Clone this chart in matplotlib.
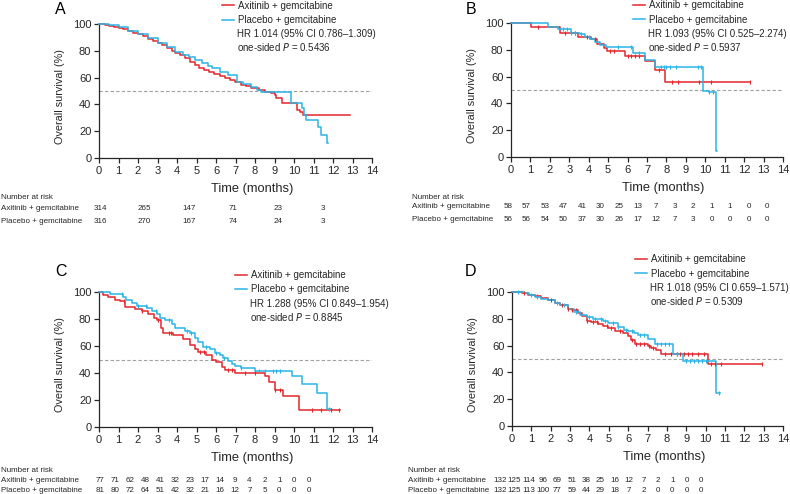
import matplotlib
matplotlib.use("Agg")
import matplotlib.pyplot as plt
import numpy as np

plt.rcParams['font.family'] = ['Liberation Sans', 'DejaVu Sans']

RED = '#e3262b'
BLUE = '#2ab4e6'
INK = '#262626'

arms = ['Axitinib + gemcitabine', 'Placebo + gemcitabine']

# ---- panel A ----
a_axi_t = [0, 0.3, 0.5, 0.75, 1.0, 1.25, 1.5, 1.75, 2.0, 2.25, 2.5, 2.75, 3.0, 3.25, 3.5,
           3.75, 3.9, 4.15, 4.4, 4.65, 4.9, 5.15, 5.4, 5.65, 5.9, 6.2, 6.45, 6.7, 6.96, 7.3,
           7.55, 7.8, 8.2, 8.5, 8.8, 9.0, 9.1, 9.4, 10.15, 10.3, 10.45, 12.85]
a_axi_s = [100, 99, 98.5, 97.5, 96.8, 96, 94.8, 93.5, 92.5, 91, 89, 87.5, 85.6, 84, 82,
           80, 78, 76.5, 74.4, 72, 69.4, 67.5, 66, 64.5, 63, 61, 59.5, 58, 57, 54.5,
           53.5, 52, 51, 49.5, 48.5, 47, 44.5, 40.8, 36, 34, 32.3, 32.3]
a_pla_t = [0, 0.5, 1.0, 1.5, 2.0, 2.5, 3.0, 3.5, 3.9, 4.3, 4.6, 4.9, 5.3, 5.6, 5.8, 6.2,
           6.6, 7.1, 7.4, 7.8, 8.1, 8.3, 9.85, 10.4, 10.5, 10.6, 11.25, 11.4, 11.7, 11.75]
a_pla_s = [100, 99.5, 97.5, 95, 92.5, 89.5, 86, 82.5, 79, 77, 75, 73, 71, 69, 67, 64.5,
           62, 57, 55, 53, 51, 49, 41.3, 37, 32, 28.7, 23.5, 17.5, 11, 11]
a_axi_c = []
a_pla_c = []
a_risk_axi = [314, 265, 147, 71, 23, 3]
a_risk_pla = [316, 270, 167, 74, 24, 3]
a_hr = 'HR 1.014 (95% CI 0.786\u20131.309)'
a_p = '0.5436'

# ---- panel B ----
b_axi_t = [0, 1.05, 2.5, 3.45, 4.1, 4.45, 4.8, 4.95, 5.85, 6.88, 7.4, 7.95, 12.3]
b_axi_s = [100, 97.3, 92.3, 89.8, 88.3, 84.5, 81, 79, 75.7, 71.5, 65, 55.6, 55.6]
b_pla_t = [0, 1.9, 2.42, 3.1, 3.53, 3.79, 4.05, 4.3, 4.56, 4.9, 6.28, 6.88, 7.4, 9.88,
           10.2, 10.57, 10.58]
b_pla_s = [100, 97.3, 95.3, 92.5, 91.6, 89.8, 88, 86, 83.6, 81.9, 77.9, 72.5, 67.5, 49.4,
           48.5, 4.2, 4.2]
b_axi_c = [1.4, 2.8, 3.3, 3.9, 4.3, 5.1, 5.3, 6.0, 6.2, 6.4, 6.6, 7.6, 8.3, 8.6, 9.7,
           10.3, 12.3]
b_pla_c = [2.7, 2.9, 3.1, 3.3, 3.6, 4.0, 5.5, 6.2, 6.6, 7.7, 7.9, 8.0, 8.2, 8.5, 9.6,
           9.8, 10.2, 10.4]
b_risk_axi = [58, 57, 53, 47, 41, 30, 25, 13, 7, 3, 2, 1, 1, 0, 0]
b_risk_pla = [56, 56, 54, 50, 37, 30, 26, 17, 12, 7, 3, 0, 0, 0, 0]
b_hr = 'HR 1.093 (95% CI 0.525\u20132.274)'
b_p = '0.5937'

# ---- panel C ----
c_axi_t = [0, 0.22, 0.48, 0.82, 1.08, 1.33, 1.85, 2.2, 2.5, 2.8, 2.96, 3.2, 3.3, 3.8,
           4.3, 4.67, 4.9, 5.1, 5.5, 5.8, 6.0, 6.3, 6.46, 6.97, 8.5, 8.7, 9.0, 9.45,
           10.25, 12.36]
c_axi_s = [100, 98, 96, 94, 93, 89, 87.5, 86, 84, 81, 79, 73, 70, 68,
           65, 61, 58, 55.5, 53, 50, 48, 44.5, 42, 40, 37.5, 33, 27.7, 23,
           12.6, 12.6]
c_pla_t = [0, 0.56, 1.25, 1.4, 1.7, 1.93, 2.44, 2.7, 2.96, 3.13, 3.4, 3.73, 3.9, 4.4,
           4.67, 4.92, 5.1, 5.35, 5.7, 5.95, 6.2, 6.37, 6.63, 6.8, 6.97, 7.3, 8.0,
           9.88, 10.4, 11.16, 11.67, 11.9]
c_pla_s = [100, 98.5, 96, 94, 92, 90, 88, 86, 84, 81, 79, 76, 73.5, 71,
           69.5, 66, 63, 59.5, 57.5, 55, 53, 51, 49, 47, 45, 43.5, 41.5,
           37.5, 31.5, 25, 13.4, 13.4]
c_axi_c = [1.3, 2.2, 3.0, 3.6, 3.7, 5.2, 5.4, 6.6, 6.8, 7.5, 8.0, 9.0, 9.3, 10.9, 11.4,
           11.9, 12.3]
c_pla_c = [1.2, 2.0, 2.4, 2.9, 3.6, 4.5, 4.7, 5.5, 6.0, 6.4, 7.3, 8.2, 8.5, 8.9, 9.1,
           9.3, 11.8]
c_risk_axi = [77, 71, 62, 48, 41, 32, 23, 17, 14, 9, 4, 2, 1, 0, 0]
c_risk_pla = [81, 80, 72, 64, 51, 42, 32, 21, 16, 12, 7, 5, 0, 0, 0]
c_hr = 'HR 1.288 (95% CI 0.849\u20131.954)'
c_p = '0.8845'

# ---- panel D ----
d_axi_t = [0, 0.5, 0.83, 1.2, 1.5, 1.86, 2.2, 2.5, 2.9, 3.1, 3.4, 3.6, 3.9, 4.1, 4.44,
           4.7, 4.96, 5.3, 5.73, 6.0, 6.16, 6.33, 7.0, 7.2, 7.45, 7.7, 10.1, 12.9]
d_axi_s = [100, 99, 98, 97, 95.5, 94, 92, 90, 87, 86.5, 84.5, 82, 78.5, 77.5, 76,
           74.5, 73, 71, 69.5, 67, 64, 61, 59.5, 58, 56.5, 53.5, 46.5, 46.5]
d_pla_t = [0, 0.6, 0.9, 1.2, 1.5, 1.86, 2.2, 2.5, 2.9, 3.2, 3.5, 3.9, 4.2, 4.44, 4.7,
           4.96, 5.47, 5.8, 6.0, 6.3, 6.5, 7.0, 7.37, 8.3, 8.83, 10.55, 10.75]
d_pla_s = [100, 99, 98, 96.5, 95, 94, 92, 90, 87.5, 85, 83, 81, 80, 79.5, 78,
           77, 74, 72, 71, 69.5, 68, 65, 61, 54, 48.5, 25, 25]
d_axi_c = [0.6, 1.3, 2.0, 2.6, 2.9, 3.1, 3.3, 3.9, 4.2, 4.4, 4.9, 5.1, 5.6, 6.2, 6.4, 6.6,
           6.8, 7.1, 7.3, 7.9, 8.2, 8.5, 8.7, 8.9, 9.1, 9.3, 9.6, 9.9, 10.3, 10.5, 10.8,
           12.9]
d_pla_c = [0.3, 1.0, 1.3, 2.3, 2.7, 3.3, 4.0, 4.3, 4.6, 4.8, 5.2, 5.5, 5.9, 6.2, 6.6, 6.8,
           7.5, 7.7, 7.9, 8.1, 8.5, 9.0, 9.2, 9.4, 9.6, 9.8, 10.0, 10.7]
d_risk_axi = [132, 125, 114, 96, 69, 51, 38, 25, 16, 12, 7, 2, 1, 0, 0]
d_risk_pla = [132, 125, 113, 100, 77, 59, 44, 29, 18, 7, 2, 0, 0, 0, 0]
d_hr = 'HR 1.018 (95% CI 0.659\u20131.571)'
d_p = '0.5309'

W, H = 790, 494
fig = plt.figure(figsize=(W / 100, H / 100), dpi=100)


def px(x, y):
    return x / W, 1 - y / H


# layout in pixels: axes box (left, top, right, bottom), letter pos, legend anchor,
# risk table (label x, first number x, step, y rows)
panels = [
    dict(letter='A', box=(99, 24, 372, 158), let=(60, 10),
         leg=(0.451, 1.175), hr=(0.505, 0.925),
         tbl=(1, 100, 44.5, (197, 208, 221)),
         curves=[(a_axi_t, a_axi_s, a_axi_c), (a_pla_t, a_pla_s, a_pla_c)],
         risk=(a_risk_axi, a_risk_pla), hr_txt=a_hr, p=a_p),
    dict(letter='B', box=(511, 23, 783, 157), let=(471, 9),
         leg=(0.449, 1.17), hr=(0.504, 0.916),
         tbl=(412, 508, 18.5, (197, 206, 219)),
         curves=[(b_axi_t, b_axi_s, b_axi_c), (b_pla_t, b_pla_s, b_pla_c)],
         risk=(b_risk_axi, b_risk_pla), hr_txt=b_hr, p=b_p),
    dict(letter='C', box=(99, 292, 372, 427), let=(61, 272),
         leg=(0.498, 1.163), hr=(0.553, 0.911),
         tbl=(1, 100.5, 14.9, (470, 480, 490)),
         curves=[(c_axi_t, c_axi_s, c_axi_c), (c_pla_t, c_pla_s, c_pla_c)],
         risk=(c_risk_axi, c_risk_pla), hr_txt=c_hr, p=c_p),
    dict(letter='D', box=(512, 292, 783, 426), let=(471, 272),
         leg=(0.454, 1.28), hr=(0.509, 1.03),
         tbl=(408, 500, 14.36, (470, 480, 490)),
         curves=[(d_axi_t, d_axi_s, d_axi_c), (d_pla_t, d_pla_s, d_pla_c)],
         risk=(d_risk_axi, d_risk_pla), hr_txt=d_hr, p=d_p),
]

for pn in panels:
    l, t, r, b = pn['box']
    ax = fig.add_axes([l / W, 1 - b / H, (r - l) / W, (b - t) / H])
    ax.set_xlim(0, 14)
    ax.set_ylim(0, 100)
    ax.set_xticks(range(0, 15))
    ax.set_yticks(range(0, 101, 20))
    for side in ('top', 'right'):
        ax.spines[side].set_visible(False)
    for side in ('left', 'bottom'):
        ax.spines[side].set_color(INK)
        ax.spines[side].set_linewidth(0.9)
    ax.tick_params(direction='out', length=3.5, width=0.9, color=INK,
                   labelsize=8, labelcolor=INK, pad=2)
    ax.set_xlabel('Time (months)', fontsize=9.3, color=INK)
    ax.xaxis.set_label_coords(0.56, -0.185)
    ax.set_ylabel('Overall survival (%)', fontsize=7.8, color=INK)
    ax.yaxis.set_label_coords(-0.125, 0.46)

    ax.axhline(50, color='#a0a0a0', lw=0.8, ls=(0, (3, 2)), zorder=1)

    for (tt, ss, cc), col, name in zip(pn['curves'], (RED, BLUE), arms):
        tt = np.array(tt)
        ss = np.array(ss)
        ax.step(tt, ss, where='post', color=col, lw=1.1, label=name, zorder=3,
                clip_on=False)
        if len(cc):
            cc = np.array(cc)
            idx = np.searchsorted(tt, cc, side='right') - 1
            ax.plot(cc, ss[idx], ls='none', marker='|', ms=3.5, mew=0.8,
                    color=col, zorder=4, clip_on=False)

    ax.legend(loc='upper left', bbox_to_anchor=pn['leg'], frameon=False,
              fontsize=7, handlelength=1.2, handletextpad=0.4, labelspacing=0.45,
              borderaxespad=0, borderpad=0, labelcolor=INK)
    hx, hy = pn['hr']
    ax.text(hx, hy, pn['hr_txt'], transform=ax.transAxes, fontsize=7, color=INK,
            va='center', ha='left')
    ax.text(hx, hy - 0.095, 'one-sided $\\it{P}$ = ' + pn['p'], transform=ax.transAxes,
            fontsize=7, color=INK, va='center', ha='left')

    fig.text(*px(*pn['let']), pn['letter'], fontsize=11.5, color='black',
             ha='center', va='center')

    lx, x0, step, rows = pn['tbl']
    fig.text(*px(lx, rows[0]), 'Number at risk', fontsize=5.8, color=INK,
             ha='left', va='center')
    for name, vals, ry in zip(arms, pn['risk'], rows[1:]):
        fig.text(*px(lx, ry), name, fontsize=5.8, color=INK, ha='left', va='center')
        for k, v in enumerate(vals):
            fig.text(*px(x0 + k * step, ry), str(v), fontsize=5.8, color=INK,
                     ha='center', va='center')

fig.savefig('out.png', dpi=100)
